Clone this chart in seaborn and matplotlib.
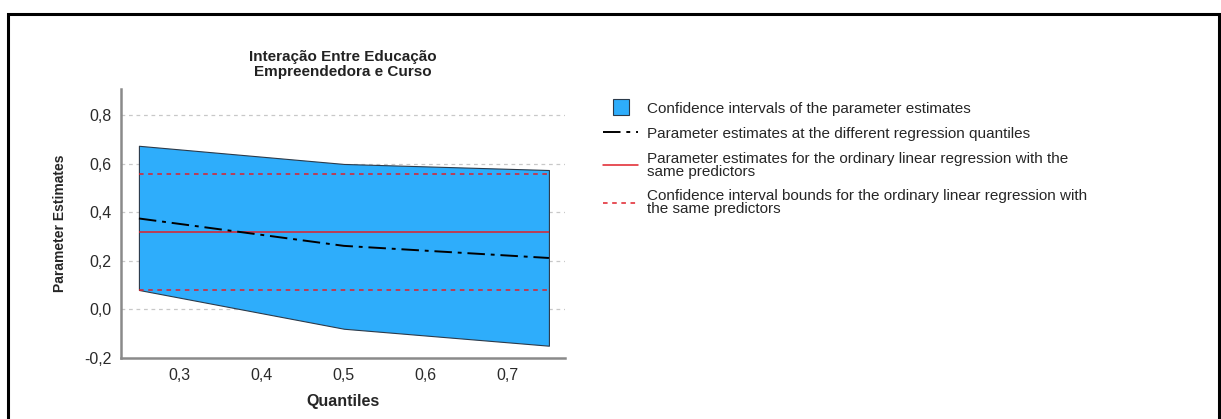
import numpy as np
import pandas as pd
import matplotlib
matplotlib.use("Agg")
import matplotlib.pyplot as plt
import seaborn as sns
from matplotlib.patches import Rectangle
from matplotlib.lines import Line2D

# ==============================
# DATA
# ==============================

quantiles = [0.25, 0.5, 0.75]
estimates = [0.375, 0.262, 0.212]
ci_lower = [0.08, -0.08, -0.15]
ci_upper = [0.675, 0.60, 0.575]

ols_estimate = 0.32
ols_lower = 0.08
ols_upper = 0.56

y_ticks = [-0.2, 0.0, 0.2, 0.4, 0.6, 0.8]
x_ticks = [0.3, 0.4, 0.5, 0.6, 0.7]

legend_labels = [
    "Confidence intervals of the parameter estimates",
    "Parameter estimates at the different regression quantiles",
    "Parameter estimates for the ordinary linear regression with the\nsame predictors",
    "Confidence interval bounds for the ordinary linear regression with\nthe same predictors",
]

df = pd.DataFrame({"Quantiles": quantiles, "Estimate": estimates})

# ==============================
# FIGURE
# ==============================

sns.set_style("white")
plt.rcParams["font.family"] = ["Liberation Sans", "DejaVu Sans"]

fig = plt.figure(figsize=(12.21, 4.19), dpi=100)
ax = fig.add_axes([0.099, 0.146, 0.364, 0.642])

band_color = "#2EADFB"

ax.fill_between(quantiles, ci_lower, ci_upper, color=band_color,
                edgecolor="#2b3a4a", linewidth=0.8, zorder=2)

sns.lineplot(data=df, x="Quantiles", y="Estimate", ax=ax, color="black",
             linewidth=1.4, zorder=4)
ax.lines[-1].set_dashes([9, 3, 2, 3])

ax.hlines(ols_estimate, quantiles[0], quantiles[-1], color="#e0202a",
          linewidth=1.1, zorder=3)
ax.hlines([ols_lower, ols_upper], quantiles[0], quantiles[-1], color="#e0202a",
          linewidth=1.1, linestyles=(0, (3, 3)), zorder=3)

for t in y_ticks[1:]:
    ax.axhline(t, color="#c8c8c8", linewidth=0.9, linestyle=(0, (3, 3)), zorder=1)

ax.set_xlim(0.228, 0.77)
ax.set_ylim(-0.2, 0.91)
ax.set_xticks(x_ticks)
ax.set_yticks(y_ticks)
ax.set_xticklabels([f"{t:.1f}".replace(".", ",") for t in x_ticks])
ax.set_yticklabels([f"{t:.1f}".replace(".", ",").replace("-0,0", "0,0") for t in y_ticks])
ax.tick_params(axis="both", length=0, labelsize=11.5, colors="#2a2a2a", pad=7)

for side in ["top", "right"]:
    ax.spines[side].set_visible(False)
for side in ["left", "bottom"]:
    ax.spines[side].set_color("#8a8a8a")
    ax.spines[side].set_linewidth(1.8)

ax.set_xlabel("Quantiles", fontsize=11.5, fontweight="bold", labelpad=8)
ax.set_ylabel("Parameter Estimates", fontsize=10, fontweight="bold", labelpad=12)
ax.set_title("Interação Entre Educação\nEmpreendedora e Curso", fontsize=11,
             fontweight="bold", color="#222222", pad=9, linespacing=1.15)

# ==============================
# LEGEND
# ==============================

handles = [
    Line2D([], [], linestyle="none", marker="s", markersize=12,
           markerfacecolor=band_color, markeredgecolor="#2b3a4a", markeredgewidth=0.8),
    Line2D([0], [0], color="black", linewidth=1.4, dashes=[9, 3, 2, 3]),
    Line2D([0], [0], color="#e0202a", linewidth=1.1),
    Line2D([0], [0], color="#e0202a", linewidth=1.1, linestyle=(0, (3, 3))),
]
leg = fig.legend(handles, legend_labels, loc="upper left", bbox_to_anchor=(0.489, 0.772),
                 frameon=False, fontsize=11, handlelength=2.3, handleheight=0.85,
                 handletextpad=0.55, labelspacing=0.7, borderaxespad=0)
for txt in leg.get_texts():
    txt.set_linespacing(0.9)

# ==============================
# OUTER BORDER
# ==============================

fig.patches.append(Rectangle((0.0065, -0.05), 0.992, 1.017, transform=fig.transFigure,
                             fill=False, edgecolor="black", linewidth=2.2))

fig.savefig("out.png", dpi=100)
